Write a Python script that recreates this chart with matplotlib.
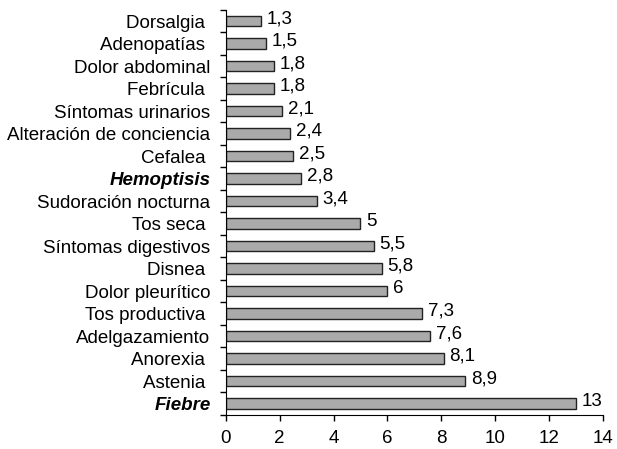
import matplotlib.pyplot as plt
import numpy as np

plt.rcParams["font.family"] = ["Liberation Sans", "DejaVu Sans"]

# ------------------------------------
# Data (top to bottom as in the chart)
# ------------------------------------
sintomas = [
    "Dorsalgia ", "Adenopatías ", "Dolor abdominal", "Febrícula ",
    "Síntomas urinarios", "Alteración de conciencia", "Cefalea ",
    "Hemoptisis", "Sudoración nocturna", "Tos seca ", "Síntomas digestivos",
    "Disnea ", "Dolor pleurítico", "Tos productiva ", "Adelgazamiento",
    "Anorexia ", "Astenia ", "Fiebre",
]
porcentajes = [1.3, 1.5, 1.8, 1.8, 2.1, 2.4, 2.5, 2.8, 3.4, 5, 5.5,
               5.8, 6, 7.3, 7.6, 8.1, 8.9, 13]
destacados = ["Hemoptisis", "Fiebre"]
xticks = [0, 2, 4, 6, 8, 10, 12, 14]


fig = plt.figure(figsize=(6.17, 4.49), dpi=100)
ax = fig.add_axes([0.366, 0.076, 0.611, 0.902])

n = len(sintomas)
y = np.arange(n)

ax.barh(y, porcentajes, height=0.47, color="#aaaaaa",
        edgecolor="#222222", linewidth=1)

for yi, v in zip(y, porcentajes):
    texto = f"{v:g}".replace(".", ",")
    ax.text(v + 0.2, yi - 0.1, texto, va="center", ha="left", fontsize=13.5)

ax.set_ylim(n - 0.5, -0.5)
ax.set_xlim(0, 14)

ax.set_yticks(y)
ax.set_yticklabels(sintomas, fontsize=13.5)
for lbl in ax.get_yticklabels():
    if lbl.get_text().strip() in destacados:
        lbl.set_fontweight("bold")
        lbl.set_fontstyle("italic")
ax.tick_params(axis="y", which="major", length=0, pad=11)
ax.set_yticks(np.arange(-0.5, n, 1), minor=True)
ax.tick_params(axis="y", which="minor", length=4, width=1)

ax.set_xticks(xticks)
ax.set_xticklabels([str(t) for t in xticks], fontsize=13.5)
ax.tick_params(axis="x", length=4, width=1, pad=7)

ax.spines["top"].set_visible(False)
ax.spines["right"].set_visible(False)

plt.savefig("out.png", dpi=100)
